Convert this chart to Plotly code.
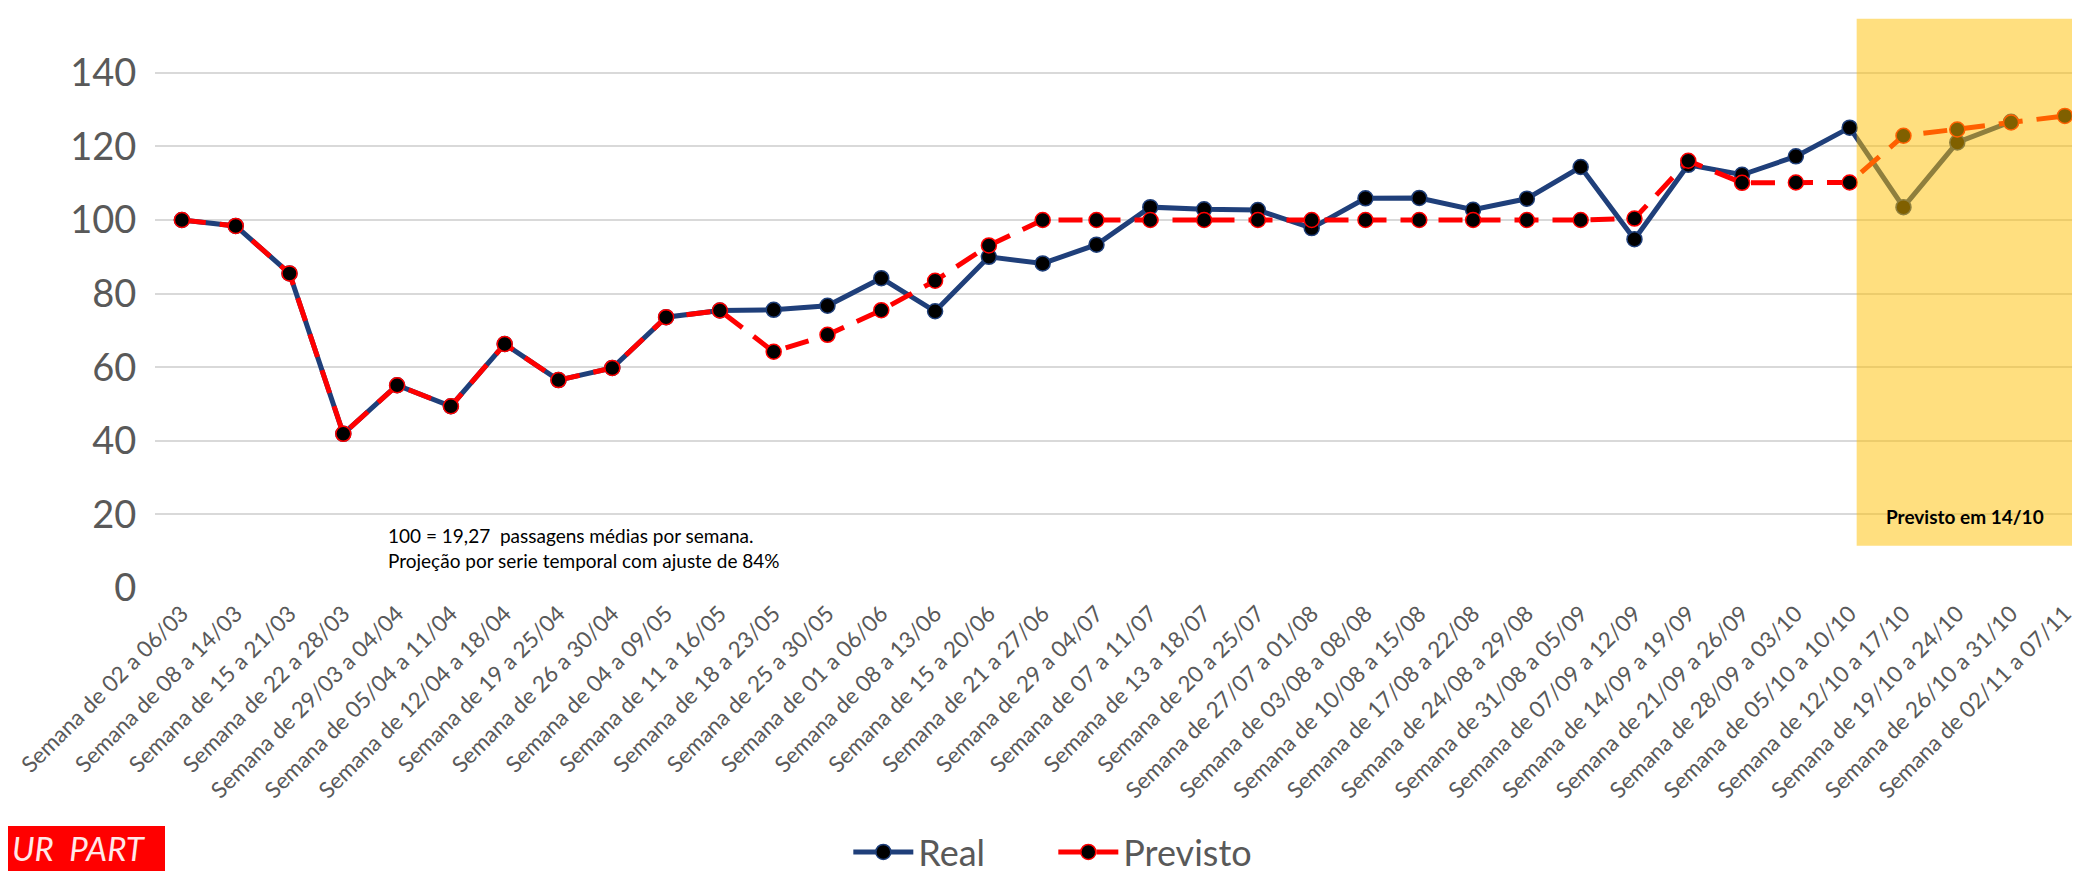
import plotly.graph_objects as go

categorias = [
    "Semana de 02 a 06/03", "Semana de 08 a 14/03", "Semana de 15 a 21/03",
    "Semana de 22 a 28/03", "Semana de 29/03 a 04/04", "Semana de 05/04 a 11/04",
    "Semana de 12/04 a 18/04", "Semana de 19 a 25/04", "Semana de 26 a 30/04",
    "Semana de 04 a 09/05", "Semana de 11 a 16/05", "Semana de 18 a 23/05",
    "Semana de 25 a 30/05", "Semana de 01 a 06/06", "Semana de 08 a 13/06",
    "Semana de 15 a 20/06", "Semana de 21 a 27/06", "Semana de 29 a 04/07",
    "Semana de 07 a 11/07", "Semana de 13 a 18/07", "Semana de 20 a 25/07",
    "Semana de 27/07 a 01/08", "Semana de 03/08 a 08/08", "Semana de 10/08 a 15/08",
    "Semana de 17/08 a 22/08", "Semana de 24/08 a 29/08", "Semana de 31/08 a 05/09",
    "Semana de 07/09 a 12/09", "Semana de 14/09 a 19/09", "Semana de 21/09 a 26/09",
    "Semana de 28/09 a 03/10", "Semana de 05/10 a 10/10", "Semana de 12/10 a 17/10",
    "Semana de 19/10 a 24/10", "Semana de 26/10 a 31/10", "Semana de 02/11 a 07/11",
]

real = [100, 98.4, 85.5, 41.9, 55.1, 49.4, 66.3, 56.5, 59.8, 73.6,
        75.4, 75.6, 76.7, 84.2, 75.2, 90.0, 88.2, 93.3, 103.5, 102.9,
        102.7, 97.8, 105.9, 106.0, 102.8, 105.8, 114.4, 94.8, 115.0, 112.3,
        117.3, 125.1, 103.5, 121.1, 126.7, None]

previsto = [100, 98.4, 85.5, 41.9, 55.1, 49.4, 66.3, 56.5, 59.8, 73.6,
            75.4, 64.2, 68.8, 75.5, 83.5, 93.1, 100, 100, 100, 100,
            100, 100, 100, 100, 100, 100, 100, 100.4, 116.1, 110.1,
            110.2, 110.2, 122.9, 124.6, 126.5, 128.3]

nota = "100 = 19,27  passagens médias por semana.<br>Projeção por serie temporal com ajuste de 84%"
rotulo_destaque = "Previsto em 14/10"

W, H = 2080, 874
ML, MR, MT, MB = 147, 0, 10, 294
PW, PH = W - ML - MR, H - MT - MB
X_RANGE = [-0.5, 35.43]
Y_RANGE = [0, 154.9]

FONT = "Lato"
GRAY = "#595959"
BLUE = "#1F3F7A"
RED = "#FF0000"

def px_x(px):
    return (px - ML) / PW

def px_y(py):
    return (H - MB - py) / PH

fig = go.Figure()
fig.add_trace(go.Scatter(
    x=categorias, y=real, name="Real", mode="lines+markers",
    line=dict(color=BLUE, width=5),
    marker=dict(color="black", size=15, line=dict(color=BLUE, width=1.5)),
))
fig.add_trace(go.Scatter(
    x=categorias, y=previsto, name="Previsto", mode="lines+markers",
    line=dict(color=RED, width=5, dash="24px,14px"),
    marker=dict(color="black", size=15, line=dict(color=RED, width=1.5)),
))

# translucent highlight box over the forecast period
fig.add_shape(type="rect", xref="x", yref="y", x0=31.13, x1=35.3, y0=11.5, y1=154.7,
              fillcolor="rgba(255,192,0,0.5)", line=dict(width=0), layer="above")
fig.add_annotation(xref="x", yref="y", x=33.15, y=19.4, text="<b>" + rotulo_destaque + "</b>",
                   showarrow=False, font=dict(family=FONT, size=19, color="black"))

fig.add_annotation(xref="paper", yref="paper", x=px_x(378), y=px_y(540), text=nota,
                   showarrow=False, align="left", xanchor="left", yanchor="middle",
                   font=dict(family=FONT, size=19, color="black"))

# logo fragment bottom-left
fig.add_shape(type="rect", xref="paper", yref="paper", x0=px_x(0), x1=px_x(157),
              y0=px_y(863), y1=px_y(818), fillcolor="#FF0000", line=dict(width=0))
fig.add_shape(type="rect", xref="paper", yref="paper", x0=px_x(0), x1=px_x(115),
              y0=px_y(880), y1=px_y(868), fillcolor="#FF0000", line=dict(width=0))
fig.add_annotation(xref="paper", yref="paper", x=px_x(140), y=px_y(840), text="<i>UR  PART</i>",
                   showarrow=False, xanchor="right", yanchor="middle",
                   font=dict(family=FONT, size=33, color="#FFE8E8"))

fig.update_layout(
    width=W, height=H,
    margin=dict(l=ML, r=MR, t=MT, b=MB, autoexpand=False),
    paper_bgcolor="white", plot_bgcolor="white",
    font=dict(family=FONT, color=GRAY),
    showlegend=True,
    legend=dict(orientation="h", xref="container", yref="container",
                x=0.404, xanchor="left", y=-0.006, yanchor="bottom",
                font=dict(family=FONT, size=36, color=GRAY),
                entrywidth=130, itemwidth=60, bgcolor="rgba(0,0,0,0)"),
    xaxis=dict(range=X_RANGE, tickangle=-45, showgrid=False, zeroline=False,
               showline=False, ticks="", ticklabelstandoff=7,
               tickfont=dict(family=FONT, size=22.5, color=GRAY)),
    yaxis=dict(range=Y_RANGE, tick0=0, dtick=20, showgrid=True, gridcolor="#D9D9D9",
               gridwidth=2, zeroline=False, showline=False,
               ticks="outside", ticklen=10, tickcolor="rgba(0,0,0,0)",
               tickfont=dict(family=FONT, size=38, color=GRAY)),
)

fig.write_html("out.html")
